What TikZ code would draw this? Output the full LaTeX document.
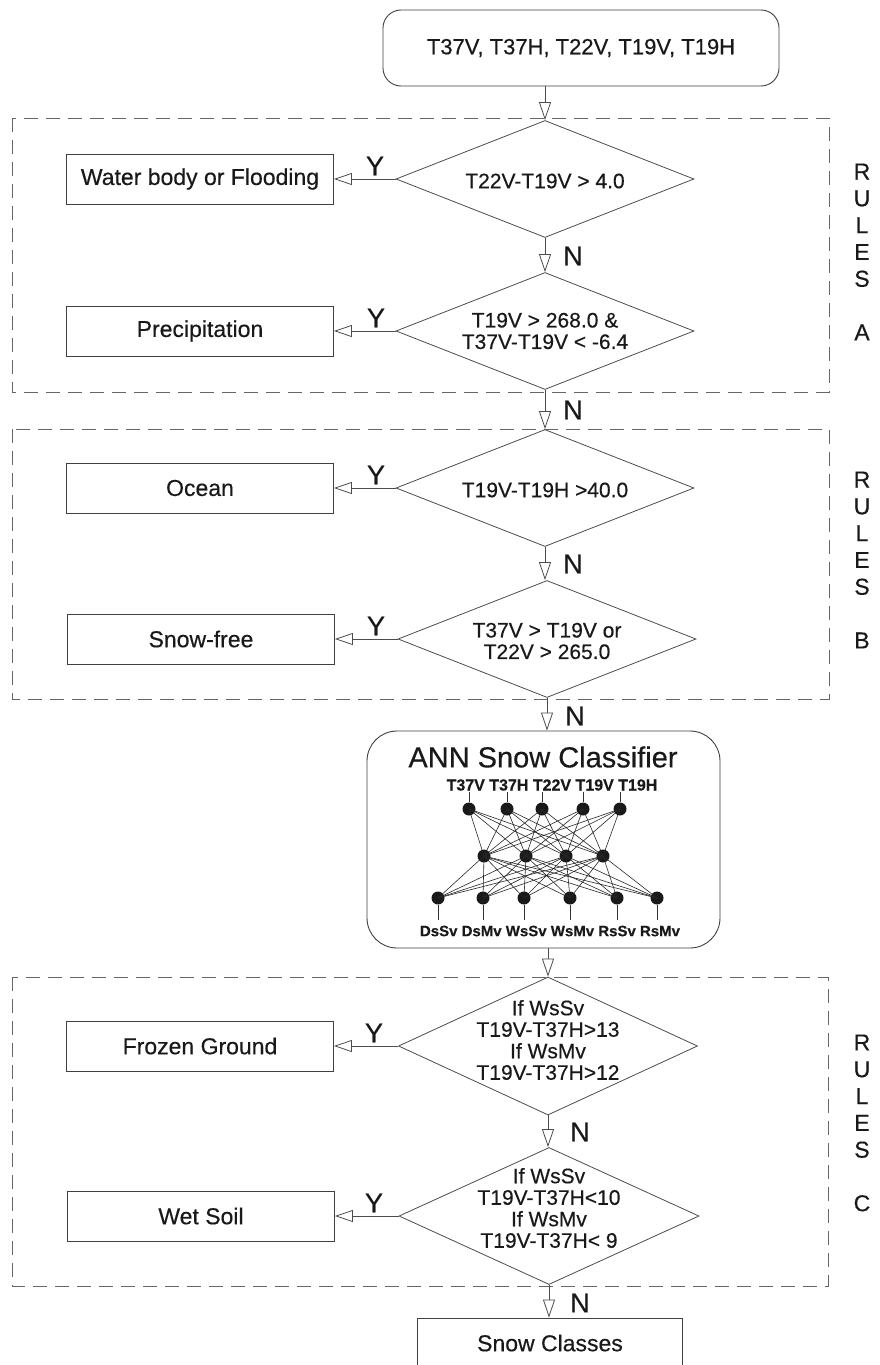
\documentclass[tikz,border=0pt]{standalone}
\usepackage{fontspec}
\setmainfont[FakeBold=0.4]{Liberation Sans}
\usetikzlibrary{arrows.meta,shapes.geometric}

\begin{document}
\begin{tikzpicture}[x=1pt,y=-1pt,
  ink/.style={text=black!90},
  box/.style={rectangle, draw=black!75, line width=0.9pt, inner sep=0pt,
    minimum width=267pt, minimum height=50pt, ink, font=\fontsize{23}{26}\selectfont},
  test/.style={diamond, draw=black!70, line width=0.8pt, inner sep=0pt,
    minimum width=298pt, minimum height=117pt},
  cond/.style={align=center, ink, font=\fontsize{21}{21.5}\selectfont},
  flow/.style={draw=black!70, line width=0.8pt, -{Triangle[open, length=18pt, width=12pt]}},
  group/.style={draw=black!60, line width=0.8pt, dash pattern=on 14pt off 8pt},
  answer/.style={ink, font=\fontsize{27}{27}\selectfont},
  rules/.style={align=center, ink, font=\fontsize{23}{26.8}\selectfont},
  neuron/.style={circle, fill=black!90, inner sep=0pt, minimum size=13pt},
  synapse/.style={draw=black!85, line width=0.6pt},
  tick/.style={draw=black!80, line width=0.6pt}
]
\useasboundingbox (0,0) rectangle (879,1365);
\clip (0,0) rectangle (879,1365);

% rule groups
\draw[group] (12,118) rectangle (829,392);
\draw[group] (12,429) rectangle (829,699);
\draw[group] (12,977) rectangle (828,1286);

\node[rules] (rulesA) at (862,252) {R\\U\\L\\E\\S\\ \\A};
\node[rules] (rulesB) at (862,560) {R\\U\\L\\E\\S\\ \\B};
\node[rules] (rulesC) at (862,1123) {R\\U\\L\\E\\S\\ \\C};

% input channels
\node[rectangle, rounded corners=18pt, draw=black!75, line width=0.9pt,
  minimum width=396pt, minimum height=76pt, inner sep=0pt, ink,
  font=\fontsize{22}{24}\selectfont] (top) at (581,48) {T37V, T37H, T22V, T19V, T19H};

% rules A
\node[test] (a1) at (545,179) {};
\node[cond] (a1t) at (545,181) {T22V-T19V > 4.0};
\node[box] (wb) at (200,179) {Water body or Flooding};
\node[test] (a2) at (545,331) {};
\node[cond] (a2t) at (545,331) {T19V > 268.0 \&\\T37V-T19V < -6.4};
\node[box] (pr) at (200,331) {Precipitation};

% rules B
\node[test] (b1) at (545,488) {};
\node[cond] (b1t) at (545,490) {T19V-T19H >40.0};
\node[box] (oc) at (200,488) {Ocean};
\node[test] (b2) at (547,639) {};
\node[cond] (b2t) at (547,641) {T37V > T19V or\\T22V > 265.0};
\node[box] (sf) at (201,639) {Snow-free};

% ANN classifier
\node[rectangle, rounded corners=30pt, draw=black!75, line width=0.9pt,
  minimum width=353pt, minimum height=217pt, inner sep=0pt] (ann) at (543.5,839.5) {};
\node[ink, font=\fontsize{29}{32}\selectfont] (anntitle) at (543,757) {ANN Snow Classifier};
\node[ink, font=\fontsize{16}{18}\selectfont\bfseries] (annin) at (552,785) {T37V T37H T22V T19V T19H};
\node[ink, font=\fontsize{15}{17}\selectfont\bfseries] (annout) at (550,931) {DsSv DsMv WsSv WsMv RsSv RsMv};

\foreach \x [count=\i] in {469,507,542,583,620}
  \node[neuron] (i\i) at (\x,809) {};
\foreach \x [count=\i] in {484,526,566,603}
  \node[neuron] (h\i) at (\x,856) {};
\foreach \x [count=\i] in {438,483,524,570,617,657}
  \node[neuron] (o\i) at (\x,898) {};

\foreach \i in {1,...,5}
  \foreach \j in {1,...,4}
    \draw[synapse] (i\i.center) -- (h\j.center);
\foreach \j in {1,...,4}
  \foreach \k in {1,...,6}
    \draw[synapse] (h\j.center) -- (o\k.center);

\foreach \i in {1,...,5}
  \draw[tick] (i\i.north) -- (i\i.north |- 0,792);
\foreach \k in {1,...,6}
  \draw[tick] (o\k.south) -- (o\k.south |- 0,920);

% rules C
\node[test, minimum width=299pt, minimum height=138pt] (c1) at (548,1046) {};
\node[cond] (c1t) at (548,1040) {If WsSv\\T19V-T37H>13\\If WsMv\\T19V-T37H>12};
\node[box] (fg) at (200,1046) {Frozen Ground};
\node[test, minimum width=300pt, minimum height=137pt] (c2) at (549,1216) {};
\node[cond] (c2t) at (549,1208) {If WsSv\\T19V-T37H<10\\If WsMv\\T19V-T37H< 9};
\node[box] (ws) at (201,1216) {Wet Soil};

\node[box, minimum width=265pt] (sc) at (550,1343) {Snow Classes};

% main flow (No branch)
\draw[flow] (a1.north |- top.south) -- (a1.north);
\draw[flow] (a1.south) -- (a2.north);
\draw[flow] (a2.south) -- (b1.north);
\draw[flow] (b1.south) -- (b1.south |- b2.north);
\draw[flow] (b2.south) -- (b2.south |- ann.north);
\draw[flow] (c1.north |- ann.south) -- (c1.north);
\draw[flow] (c1.south) -- (c1.south |- c2.north);
\draw[flow] (c2.south) -- (c2.south |- sc.north);

% Yes branches
\draw[flow] (a1.west) -- (wb.east);
\draw[flow] (a2.west) -- (pr.east);
\draw[flow] (b1.west) -- (oc.east);
\draw[flow] (b2.west) -- (sf.east);
\draw[flow] (c1.west) -- (fg.east);
\draw[flow] (c2.west) -- (ws.east);

% branch labels
\node[answer] (ya1) at (375,166) {Y};
\node[answer] (ya2) at (376,318) {Y};
\node[answer] (yb1) at (376,475) {Y};
\node[answer] (yb2) at (376,626) {Y};
\node[answer] (yc1) at (374,1033) {Y};
\node[answer] (yc2) at (374,1203) {Y};

\node[answer] (na1) at (573,256) {N};
\node[answer] (na2) at (573,410) {N};
\node[answer] (nb1) at (573,564) {N};
\node[answer] (nb2) at (575,716) {N};
\node[answer] (nc1) at (580,1132) {N};
\node[answer] (nc2) at (580,1303) {N};
\end{tikzpicture}
\end{document}
